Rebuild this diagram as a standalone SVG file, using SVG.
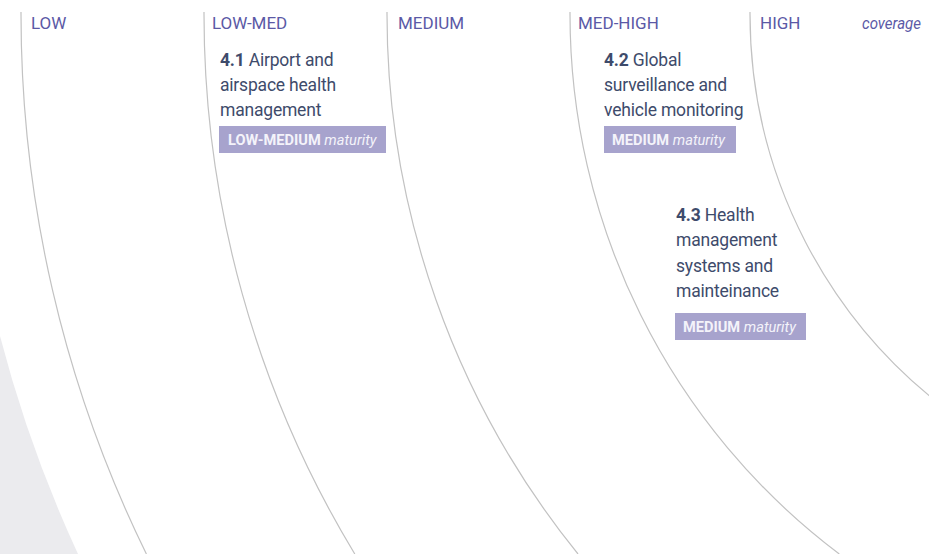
<svg xmlns="http://www.w3.org/2000/svg" width="929" height="554" viewBox="0 0 929 554">
<style>
.hdr{font-family:Roboto,"Liberation Sans",sans-serif;font-size:17px;fill:#5b59a6}
.body{font-family:Roboto,"Liberation Sans",sans-serif;font-size:17.5px;fill:#3e4b6b;letter-spacing:-0.2px}
.num{font-weight:bold}
.badge{fill:#a7a3cd}
.btxt{font-family:Roboto,"Liberation Sans",sans-serif;font-size:14.6px;fill:#f4f3fa}
.b{font-weight:bold}
.i{font-style:italic}
.arc{fill:none;stroke:#c2c2c2;stroke-width:1.2}
</style>
<rect x="0" y="0" width="929" height="554" fill="#ffffff"/>
<path id="outer-band" d="M0,336 A1287,1287 0 0 0 78,554 L0,554 Z" fill="#ebebee"/>
<g id="arcs">
<path class="arc" d="M21,12 A1225,1225 0 0 0 146.4,554"/>
<path class="arc" d="M204,12 A1042,1042 0 0 0 354.8,554"/>
<path class="arc" d="M387,12 A859,859 0 0 0 578,554"/>
<path class="arc" d="M570,12 A676,676 0 0 0 839.3,554"/>
<path class="arc" d="M750,12 A496,496 0 0 0 961.1,420"/>
</g>
<g id="headers">
<text class="hdr" x="31" y="29">LOW</text>
<text class="hdr" x="212" y="29">LOW-MED</text>
<text class="hdr" x="398" y="29">MEDIUM</text>
<text class="hdr" x="578" y="29">MED-HIGH</text>
<text class="hdr" x="760" y="29">HIGH</text>
<text class="hdr i" x="862" y="29" textLength="59" lengthAdjust="spacingAndGlyphs">coverage</text>
</g>
<g id="node-4-1">
<text class="body" x="220" y="66"><tspan class="num">4.1</tspan> Airport and</text>
<text class="body" x="220" y="91">airspace health</text>
<text class="body" x="220" y="116">management</text>
<rect class="badge" x="219" y="126" width="167" height="27"/>
<text class="btxt" x="228" y="145"><tspan class="b">LOW-MEDIUM</tspan> <tspan class="i">maturity</tspan></text>
</g>
<g id="node-4-2">
<text class="body" x="604" y="66"><tspan class="num">4.2</tspan> Global</text>
<text class="body" x="604" y="91">surveillance and</text>
<text class="body" x="604" y="116">vehicle monitoring</text>
<rect class="badge" x="604" y="126" width="132" height="27"/>
<text class="btxt" x="612" y="145"><tspan class="b">MEDIUM</tspan> <tspan class="i">maturity</tspan></text>
</g>
<g id="node-4-3">
<text class="body" x="676" y="221"><tspan class="num">4.3</tspan> Health</text>
<text class="body" x="676" y="246">management</text>
<text class="body" x="676" y="271.5">systems and</text>
<text class="body" x="676" y="297">mainteinance</text>
<rect class="badge" x="675" y="313" width="131" height="27"/>
<text class="btxt" x="683" y="332"><tspan class="b">MEDIUM</tspan> <tspan class="i">maturity</tspan></text>
</g>
</svg>
